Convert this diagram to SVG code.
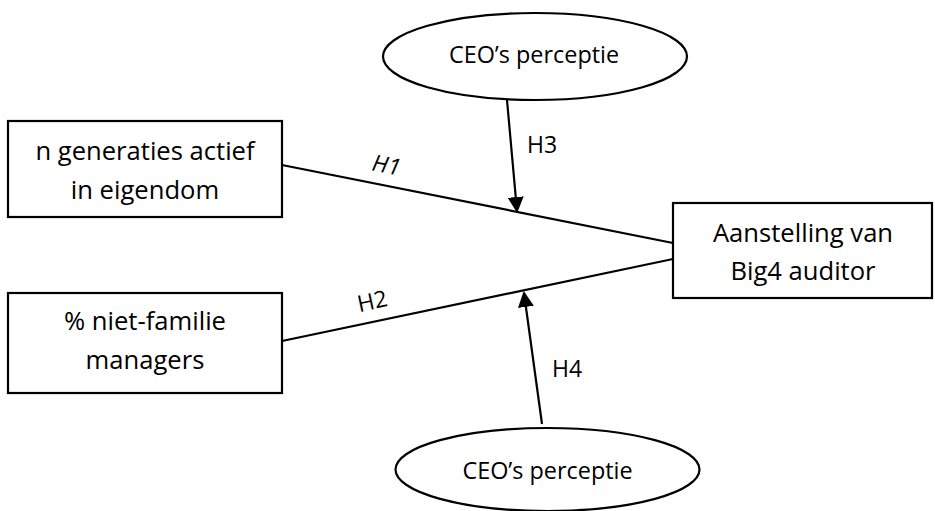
<svg xmlns="http://www.w3.org/2000/svg" width="935" height="511" viewBox="0 0 935 511">
<style>
.box{fill:#fff;stroke:#000;stroke-width:2.2}
.ell{fill:#fff;stroke:#000;stroke-width:2.2}
.t{font-family:"Open Sans","Noto Sans",sans-serif;font-size:25.6px;fill:#000;text-anchor:middle}
.te{font-family:"Open Sans","Noto Sans",sans-serif;font-size:23.4px;fill:#000;text-anchor:middle}
.lbl{font-family:"Open Sans","Noto Sans",sans-serif;font-size:23px;fill:#000;text-anchor:middle}
.ln{stroke:#000;stroke-width:2.2;fill:none}
</style>
<defs>
<marker id="ah" markerWidth="16" markerHeight="16" refX="14" refY="8" orient="auto" markerUnits="userSpaceOnUse">
<path d="M0,0 L16,8 L0,16 Z" fill="#000"/>
</marker>
</defs>
<rect width="935" height="511" fill="#fff"/>
<g id="connectors">
<line class="ln" x1="282" y1="165" x2="673" y2="243"/>
<line class="ln" x1="282" y1="341" x2="673" y2="259"/>
<line class="ln" x1="507" y1="100" x2="517" y2="211" marker-end="url(#ah)"/>
<line class="ln" x1="542" y1="424" x2="524" y2="293" marker-end="url(#ah)"/>
<text class="lbl" font-style="italic" x="385" y="173" transform="rotate(11 385 173)">H1</text>
<text class="lbl" x="374" y="309" transform="rotate(-12 374 309)">H2</text>
<text class="lbl" x="542" y="153">H3</text>
<text class="lbl" x="567" y="377">H4</text>
</g>
<g id="node-generaties">
<rect class="box" x="8" y="121" width="274" height="96"/>
<text class="t" x="145" y="160">n generaties actief</text>
<text class="t" x="145" y="199">in eigendom</text>
</g>
<g id="node-nietfamilie">
<rect class="box" x="8" y="293" width="274" height="100"/>
<text class="t" x="145" y="330">% niet-familie</text>
<text class="t" x="145" y="369">managers</text>
</g>
<g id="node-big4">
<rect class="box" x="673" y="203" width="259" height="95"/>
<text class="t" x="803" y="242">Aanstelling van</text>
<text class="t" x="803" y="280">Big4 auditor</text>
</g>
<g id="node-ceo-top">
<ellipse class="ell" cx="535" cy="56.5" rx="152" ry="43.5"/>
<text class="te" x="534" y="63">CEO’s perceptie</text>
</g>
<g id="node-ceo-bottom">
<ellipse class="ell" cx="547.5" cy="469.5" rx="152" ry="41.5"/>
<text class="te" x="547.5" y="479">CEO’s perceptie</text>
</g>
</svg>
